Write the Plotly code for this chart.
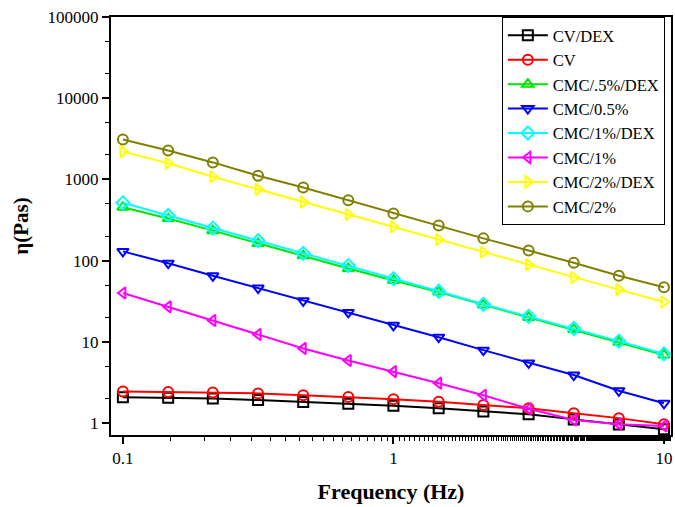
import plotly.graph_objects as go

freq = [0.1, 0.147, 0.215, 0.316, 0.464, 0.681, 1.0, 1.47, 2.15, 3.16, 4.64, 6.81, 10.0]

series_names = ["CV/DEX", "CV", "CMC/.5%/DEX", "CMC/0.5%", "CMC/1%/DEX", "CMC/1%", "CMC/2%/DEX", "CMC/2%"]

cv_dex = [2.08, 2.05, 2.0, 1.92, 1.82, 1.73, 1.63, 1.52, 1.39, 1.28, 1.11, 0.96, 0.84]
cv = [2.45, 2.42, 2.38, 2.32, 2.2, 2.1, 1.97, 1.83, 1.67, 1.52, 1.32, 1.15, 0.97]
cmc05_dex = [455, 330, 234, 163, 115, 80, 57, 41, 28.5, 20, 14.2, 9.9, 6.9]
cmc05 = [130, 93, 65, 46, 32, 23, 16, 11.4, 7.9, 5.5, 3.9, 2.5, 1.75]
cmc1_dex = [515, 360, 252, 176, 123, 87, 60, 42, 29, 20.6, 14.6, 10.2, 7.1]
cmc1 = [40, 27, 18.3, 12.3, 8.3, 5.9, 4.3, 3.1, 2.2, 1.5, 1.09, 0.97, 0.92]
cmc2_dex = [2200, 1580, 1080, 755, 525, 370, 262, 182, 127, 89, 62, 44, 31]
cmc2 = [3100, 2270, 1620, 1110, 795, 555, 380, 270, 188, 133, 94, 65, 47]

series_values = [cv_dex, cv, cmc05_dex, cmc05, cmc1_dex, cmc1, cmc2_dex, cmc2]
colors = ["#000000", "#FF0000", "#00E600", "#0000FF", "#00FFFF", "#FF00FF", "#FFFF00", "#808000"]
symbols = ["square-open", "circle-open", "triangle-up-open", "triangle-down-open",
           "diamond-open", "triangle-left-open", "triangle-right-open", "circle-open"]

y_tickvals = [1, 10, 100, 1000, 10000, 100000]
y_ticktext = ["1", "10", "100", "1000", "10000", "100000"]
x_tickvals = [0.1, 1, 10]
x_ticktext = ["0.1", "1", "10"]

fig = go.Figure()
for name, vals, col, sym in zip(series_names, series_values, colors, symbols):
    fig.add_trace(go.Scatter(
        x=freq, y=vals, name=name, mode="lines+markers",
        line=dict(color=col, width=2),
        marker=dict(symbol=sym, size=10, color=col, line=dict(width=2, color=col)),
    ))

font_family = "Liberation Serif"
fig.update_layout(
    width=675, height=507,
    margin=dict(l=111, r=2, t=17, b=72),
    paper_bgcolor="white", plot_bgcolor="white",
    font=dict(family=font_family, size=17, color="black"),
    showlegend=True,
    legend=dict(
        x=0.989, y=1, xanchor="right", yanchor="top",
        bgcolor="white", bordercolor="black", borderwidth=1,
        font=dict(family=font_family, size=16.5, color="black"),
        tracegroupgap=0, itemwidth=40,
    ),
    xaxis=dict(
        type="log", range=[-1.044, 1.026],
        tickvals=x_tickvals, ticktext=x_ticktext,
        ticks="outside", ticklen=7, tickwidth=2, tickcolor="black",
        showline=True, linecolor="black", linewidth=2, mirror=True,
        showgrid=False, zeroline=False,
        tickfont=dict(family=font_family, size=17),
        minor=dict(ticks="outside", ticklen=4, tickwidth=1, tickcolor="black", showgrid=False),
        title=dict(text="<b>Frequency (Hz)</b>", font=dict(family=font_family, size=22), standoff=16),
    ),
    yaxis=dict(
        type="log", range=[-0.147, 5.0],
        tickvals=y_tickvals, ticktext=y_ticktext,
        ticks="outside", ticklen=7, tickwidth=2, tickcolor="black",
        showline=True, linecolor="black", linewidth=2, mirror=True,
        showgrid=False, zeroline=False,
        tickfont=dict(family=font_family, size=17),
        minor=dict(ticks="outside", ticklen=4, tickwidth=1, tickcolor="black", showgrid=False),
        title=dict(text="<b>η(Pas)</b>", font=dict(family=font_family, size=21), standoff=13),
    ),
)

fig.write_html("out.html")
